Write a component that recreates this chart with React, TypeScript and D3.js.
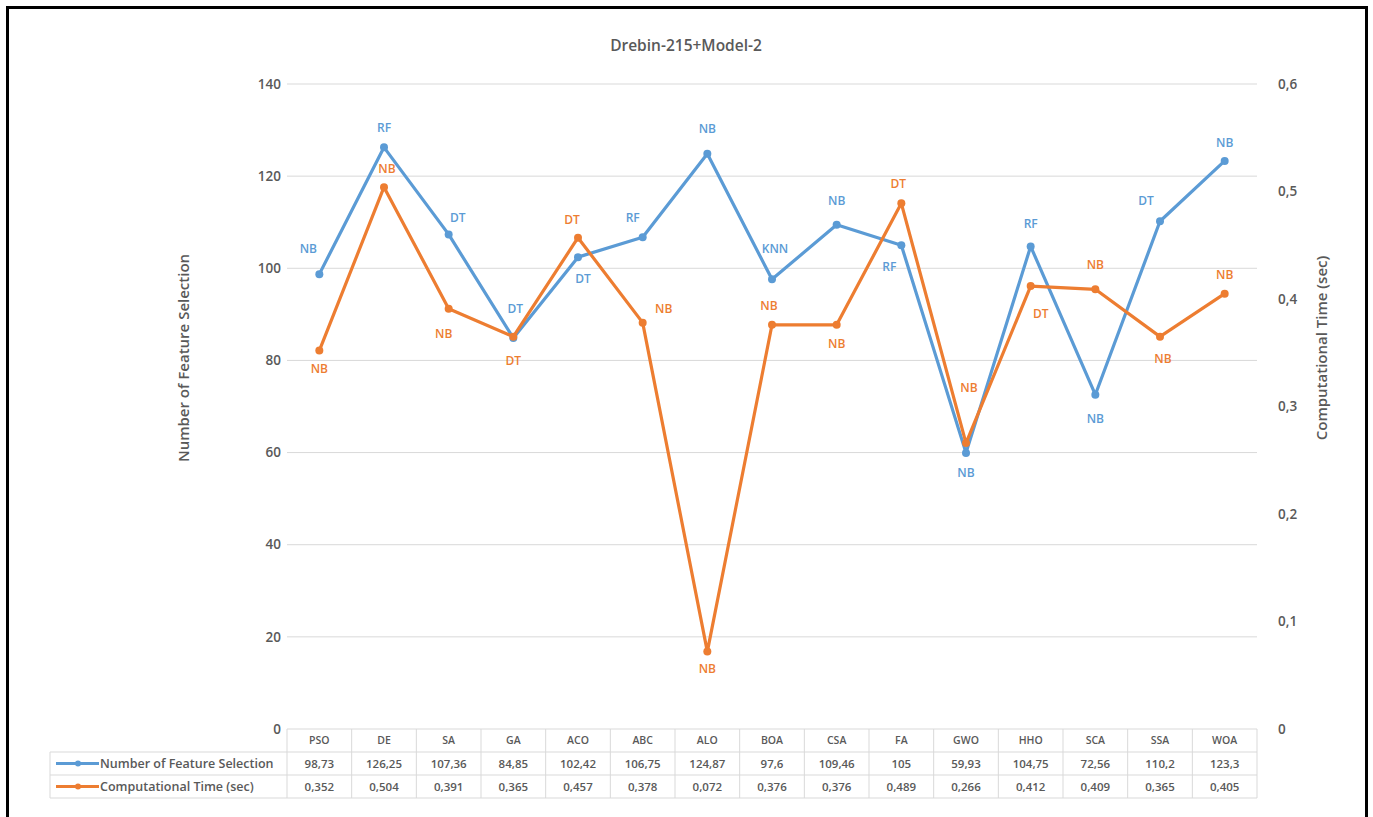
import React, { useEffect, useRef } from 'react';
import * as d3 from 'd3';

const categories = ['PSO', 'DE', 'SA', 'GA', 'ACO', 'ABC', 'ALO', 'BOA', 'CSA', 'FA', 'GWO', 'HHO', 'SCA', 'SSA', 'WOA'];
const featureCounts = [98.73, 126.25, 107.36, 84.85, 102.42, 106.75, 124.87, 97.6, 109.46, 105, 59.93, 104.75, 72.56, 110.2, 123.3];
const compTimes = [0.352, 0.504, 0.391, 0.365, 0.457, 0.378, 0.072, 0.376, 0.376, 0.489, 0.266, 0.412, 0.409, 0.365, 0.405];
const featureLabels = ['NB', 'RF', 'DT', 'DT', 'DT', 'RF', 'NB', 'KNN', 'NB', 'RF', 'NB', 'RF', 'NB', 'DT', 'NB'];
const timeLabels = ['NB', 'NB', 'NB', 'DT', 'DT', 'NB', 'NB', 'NB', 'NB', 'DT', 'NB', 'DT', 'NB', 'NB', 'NB'];
const leftTicks = [0, 20, 40, 60, 80, 100, 120, 140];
const rightTicks = [0, 0.1, 0.2, 0.3, 0.4, 0.5, 0.6];

// label nudges (dx, dy) from each marker
const featureLabelOffsets: [number, number][] = [
  [-11, -25], [0, -20], [9, -17], [2, -29], [5, 22], [-10, -19], [0, -25], [3, -31],
  [0, -24], [-12, 22], [0, 20], [0, -23], [0, 24], [-14, -20], [0, -18],
];
const timeLabelOffsets: [number, number][] = [
  [0, 18], [3, -18], [-5, 25], [0, 24], [-6, -18], [21, -14], [0, 17], [-3, -19],
  [0, 19], [-3, -20], [3, -55], [10, 28], [0, -25], [3, 22], [0, -19],
];

const W = 1373;
const H = 817;
const BLUE = '#5b9bd5';
const ORANGE = '#ed7d31';
const TEXT = '#595959';
const GRID = '#d9d9d9';
const FONT = '"Open Sans", "Liberation Sans", sans-serif';

const App: React.FC = () => {
  const svgRef = useRef<SVGSVGElement>(null);

  useEffect(() => {
    const svg = d3.select(svgRef.current);
    svg.selectAll('*').remove();

    const plotLeft = 287;
    const plotRight = 1257;
    const plotTop = 84;
    const plotBottom = 729;

    const x = d3.scaleBand<string>().domain(categories).range([plotLeft, plotRight]);
    const cx = (c: string) => (x(c) ?? 0) + x.bandwidth() / 2;
    const yL = d3.scaleLinear().domain([0, 140]).range([plotBottom, plotTop]);
    const yR = d3.scaleLinear().domain([0, 0.6]).range([plotBottom, plotTop]);

    svg.append('rect').attr('width', W).attr('height', H).attr('fill', '#fff');

    // outer frame (open at the bottom)
    svg.append('path')
      .attr('d', `M7.5,${H} V7.5 H1366.5 V${H}`)
      .attr('fill', 'none').attr('stroke', '#000').attr('stroke-width', 3);

    svg.append('text')
      .attr('x', 686).attr('y', 51)
      .attr('text-anchor', 'middle')
      .attr('font-family', FONT).attr('font-size', 15.5).attr('font-weight', 600).attr('fill', TEXT)
      .text('Drebin-215+Model-2');

    // gridlines
    svg.append('g').selectAll('line')
      .data(leftTicks.filter((t) => t > 0))
      .join('line')
      .attr('x1', plotLeft).attr('x2', plotRight)
      .attr('y1', (d) => yL(d)).attr('y2', (d) => yL(d))
      .attr('stroke', GRID).attr('stroke-width', 1);

    // left ticks
    svg.append('g').selectAll('text')
      .data(leftTicks)
      .join('text')
      .attr('x', 281).attr('y', (d) => yL(d))
      .attr('dy', '0.35em').attr('text-anchor', 'end')
      .attr('font-family', FONT).attr('font-size', 13.5).attr('font-weight', 600).attr('fill', TEXT)
      .text((d) => String(d));

    // right ticks
    svg.append('g').selectAll('text')
      .data(rightTicks)
      .join('text')
      .attr('x', 1278).attr('y', (d) => yR(d))
      .attr('dy', '0.35em').attr('text-anchor', 'start')
      .attr('font-family', FONT).attr('font-size', 13.5).attr('font-weight', 600).attr('fill', TEXT)
      .text((d) => (d === 0 ? '0' : d3.format('.1f')(d).replace('.', ',')));

    svg.append('text')
      .attr('transform', `translate(184,358) rotate(-90)`)
      .attr('text-anchor', 'middle').attr('dy', '0.35em')
      .attr('font-family', FONT).attr('font-size', 15).attr('font-weight', 600).attr('fill', TEXT)
      .text('Number of Feature Selection');

    svg.append('text')
      .attr('transform', `translate(1322,348) rotate(-90)`)
      .attr('text-anchor', 'middle').attr('dy', '0.35em')
      .attr('font-family', FONT).attr('font-size', 15).attr('font-weight', 600).attr('fill', TEXT)
      .text('Computational Time (sec)');

    const drawSeries = (
      values: number[],
      y: d3.ScaleLinear<number, number>,
      color: string,
      labels: string[],
      offsets: [number, number][],
    ) => {
      const pts = values.map((v, i) => ({ c: categories[i], v, i }));
      const line = d3.line<{ c: string; v: number }>().x((d) => cx(d.c)).y((d) => y(d.v));
      const g = svg.append('g');
      g.append('path')
        .attr('d', line(pts))
        .attr('fill', 'none').attr('stroke', color)
        .attr('stroke-width', 3.2).attr('stroke-linejoin', 'round');
      g.selectAll('circle')
        .data(pts)
        .join('circle')
        .attr('cx', (d) => cx(d.c)).attr('cy', (d) => y(d.v))
        .attr('r', 4).attr('fill', color);
      return { g, pts, labels, offsets, color, y };
    };

    const s1 = drawSeries(featureCounts, yL, BLUE, featureLabels, featureLabelOffsets);
    const s2 = drawSeries(compTimes, yR, ORANGE, timeLabels, timeLabelOffsets);

    [s1, s2].forEach((s) => {
      svg.append('g').selectAll('text')
        .data(s.pts)
        .join('text')
        .attr('x', (d) => cx(d.c) + s.offsets[d.i][0])
        .attr('y', (d) => s.y(d.v) + s.offsets[d.i][1])
        .attr('dy', '0.35em').attr('text-anchor', 'middle')
        .attr('font-family', FONT).attr('font-size', 12).attr('font-weight', 600).attr('fill', s.color)
        .text((d) => s.labels[d.i]);
    });

    // data table
    const rowH = 23;
    const tableTop = plotBottom;
    const legendLeft = 50;
    const tg = svg.append('g');
    const rows = [
      { name: 'Number of Feature Selection', color: BLUE, values: featureCounts.map((v) => String(v).replace('.', ',')) },
      { name: 'Computational Time (sec)', color: ORANGE, values: compTimes.map((v) => String(v).replace('.', ',')) },
    ];
    const tableBottom = tableTop + rowH * 3;

    // horizontal lines
    tg.append('line')
      .attr('x1', plotLeft).attr('x2', plotRight)
      .attr('y1', tableTop).attr('y2', tableTop)
      .attr('stroke', GRID);
    [1, 2, 3].forEach((k) => {
      tg.append('line')
        .attr('x1', legendLeft).attr('x2', plotRight)
        .attr('y1', tableTop + rowH * k).attr('y2', tableTop + rowH * k)
        .attr('stroke', GRID);
    });
    // vertical lines
    tg.append('line')
      .attr('x1', legendLeft).attr('x2', legendLeft)
      .attr('y1', tableTop + rowH).attr('y2', tableBottom)
      .attr('stroke', GRID);
    categories.concat(['__end']).forEach((c, i) => {
      const xx = i < categories.length ? (x(c) ?? 0) : plotRight;
      tg.append('line')
        .attr('x1', xx).attr('x2', xx)
        .attr('y1', tableTop).attr('y2', tableBottom)
        .attr('stroke', GRID);
    });

    tg.selectAll('text.cat')
      .data(categories)
      .join('text')
      .attr('class', 'cat')
      .attr('x', (d) => cx(d)).attr('y', tableTop + rowH / 2)
      .attr('dy', '0.35em').attr('text-anchor', 'middle')
      .attr('font-family', FONT).attr('font-size', 10.5).attr('font-weight', 600).attr('fill', TEXT)
      .text((d) => d);

    rows.forEach((r, ri) => {
      const yy = tableTop + rowH * (ri + 1.5);
      tg.append('line')
        .attr('x1', 56).attr('x2', 99)
        .attr('y1', yy).attr('y2', yy)
        .attr('stroke', r.color).attr('stroke-width', 3);
      tg.append('circle').attr('cx', 78).attr('cy', yy).attr('r', 3).attr('fill', r.color);
      tg.append('text')
        .attr('x', 100).attr('y', yy).attr('dy', '0.35em')
        .attr('font-family', FONT).attr('font-size', 12.5).attr('font-weight', 600).attr('fill', TEXT)
        .text(r.name);
      tg.selectAll(`text.v${ri}`)
        .data(r.values)
        .join('text')
        .attr('class', `v${ri}`)
        .attr('x', (_d, i) => cx(categories[i])).attr('y', yy)
        .attr('dy', '0.35em').attr('text-anchor', 'middle')
        .attr('font-family', FONT).attr('font-size', 11.5).attr('font-weight', 600).attr('fill', TEXT)
        .text((d) => d);
    });
  }, []);

  return (
    <svg
      ref={svgRef}
      width={W}
      height={H}
      style={{ position: 'absolute', left: 0, top: 0, display: 'block' }}
    />
  );
};

export default App;
